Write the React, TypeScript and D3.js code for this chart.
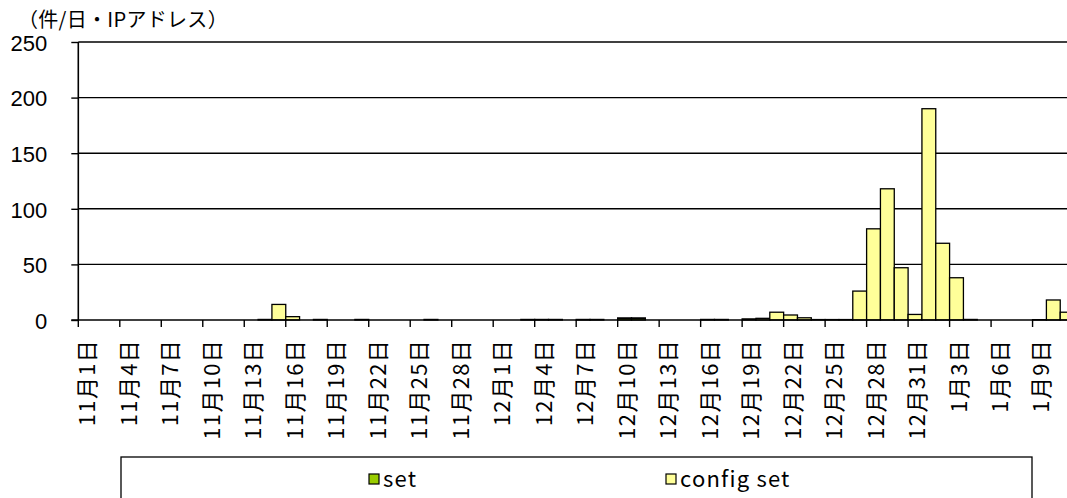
import * as d3 from "d3";
import {useEffect, useRef} from "react";

// categories: one per day, 11/1 .. 1/11
const dates = [
  "11月1日", "11月2日", "11月3日", "11月4日", "11月5日", "11月6日", "11月7日", "11月8日", "11月9日", "11月10日",
  "11月11日", "11月12日", "11月13日", "11月14日", "11月15日", "11月16日", "11月17日", "11月18日", "11月19日", "11月20日",
  "11月21日", "11月22日", "11月23日", "11月24日", "11月25日", "11月26日", "11月27日", "11月28日", "11月29日", "11月30日",
  "12月1日", "12月2日", "12月3日", "12月4日", "12月5日", "12月6日", "12月7日", "12月8日", "12月9日", "12月10日",
  "12月11日", "12月12日", "12月13日", "12月14日", "12月15日", "12月16日", "12月17日", "12月18日", "12月19日", "12月20日",
  "12月21日", "12月22日", "12月23日", "12月24日", "12月25日", "12月26日", "12月27日", "12月28日", "12月29日", "12月30日",
  "12月31日", "1月1日", "1月2日", "1月3日", "1月4日", "1月5日", "1月6日", "1月7日", "1月8日", "1月9日",
  "1月10日", "1月11日"
];

const setValues = [
  0, 0, 0, 0, 0, 0, 0, 0, 0, 0,
  0, 0, 0, 0, 0, 0, 0, 0, 0, 0,
  0, 0, 0, 0, 0, 0, 0, 0, 0, 0,
  0, 0, 0, 0, 0, 0, 0, 0, 0, 1.5,
  1.5, 0, 0, 0, 0, 0, 0, 0, 0, 0,
  0, 0, 0, 0, 0, 0, 0, 0, 0, 0,
  0, 0, 0, 0, 0, 0, 0, 0, 0, 0,
  0, 0
];

const configSetValues = [
  0, 0, 0, 0, 0, 0, 0, 0, 0, 0,
  0, 0, 0, 0.5, 14, 3, 0, 0.5, 0, 0,
  0.5, 0, 0, 0, 0, 0.5, 0, 0, 0, 0,
  0, 0, 0.5, 0.5, 0.5, 0, 0.5, 0.5, 0, 0.3,
  0.3, 0, 0, 0, 0, 0.5, 0.5, 0, 1, 1.5,
  7, 4.5, 2, 0.4, 0.4, 0.4, 26, 82, 118, 47,
  5, 190, 69, 38, 0.5, 0, 0, 0, 0, 0.3,
  18, 7
];

const seriesNames = ["set", "config set"];
const seriesColors = ["#99CC00", "#FFFF99"];
const yTicks = [0, 50, 100, 150, 200, 250];
const yUnit = "（件/日・IPアドレス）";

function App() {
  const ref = useRef(null);

  useEffect(() => {
    const width = 1067;
    const left = 78.3;
    const step = 13.83;
    const top = 42;
    const bottom = 320;

    const svg = d3.select(ref.current);
    svg.selectAll("*").remove();

    const x = d3.scaleBand()
      .domain(dates)
      .range([left, left + dates.length * step])
      .padding(0);
    const y = d3.scaleLinear()
      .domain([0, 250])
      .range([bottom, top]);

    const table = dates.map((d, i) => ({date: d, set: setValues[i], config: configSetValues[i]}));
    const stacked = d3.stack().keys(["set", "config"])(table);

    // unit label
    svg.append("text")
      .attr("x", 18)
      .attr("y", 27)
      .style("font-family", "'Noto Sans CJK JP'")
      .style("font-size", "20px")
      .style("letter-spacing", "0.3px")
      .text(yUnit);

    // gridlines
    svg.append("g")
      .selectAll("line")
      .data(yTicks.filter(t => t > 0))
      .enter()
      .append("line")
        .attr("x1", left)
        .attr("x2", width)
        .attr("y1", d => y(d))
        .attr("y2", d => y(d))
        .attr("stroke", "#000")
        .attr("stroke-width", 1.4);

    // bars
    svg.append("g")
      .selectAll("g")
      .data(stacked)
      .enter()
      .append("g")
        .attr("fill", (d, i) => seriesColors[i])
      .selectAll("rect")
      .data(d => d.filter(p => p[1] - p[0] > 0))
      .enter()
      .append("rect")
        .attr("x", d => x(d.data.date))
        .attr("width", x.bandwidth())
        .attr("y", d => y(d[1]))
        .attr("height", d => y(d[0]) - y(d[1]))
        .attr("stroke", "#000")
        .attr("stroke-width", 1.3);

    // y axis
    const yAxis = svg.append("g")
      .attr("transform", `translate(${left},0)`)
      .call(d3.axisLeft(y).tickValues(yTicks).tickSize(7).tickPadding(24));
    yAxis.select(".domain").attr("stroke", "#000").attr("stroke-width", 1.6).attr("d", `M0,${top}V${bottom}`);
    yAxis.selectAll(".tick line").attr("stroke", "#000").attr("stroke-width", 1.4);
    yAxis.selectAll(".tick text")
      .attr("fill", "#000")
      .attr("dy", "0.38em")
      .style("font-family", "'Liberation Sans', Arial")
      .style("font-size", "22px");

    // x axis
    svg.append("line")
      .attr("x1", left - 7)
      .attr("x2", width)
      .attr("y1", bottom)
      .attr("y2", bottom)
      .attr("stroke", "#000")
      .attr("stroke-width", 1.6);

    const labelled = dates.filter((d, i) => i % 3 === 0);
    const xAxis = svg.append("g");
    xAxis.selectAll("line")
      .data(labelled)
      .enter()
      .append("line")
        .attr("x1", d => x(d))
        .attr("x2", d => x(d))
        .attr("y1", bottom)
        .attr("y2", bottom + 7)
        .attr("stroke", "#000")
        .attr("stroke-width", 1.4);
    // slight opacity keeps the rotated text greyscale-antialiased
    xAxis.append("g")
      .style("opacity", 0.999)
      .selectAll("text")
      .data(labelled)
      .enter()
      .append("text")
        .attr("transform", d => `translate(${x(d) + x.bandwidth() / 2},339) rotate(-90)`)
        .attr("text-anchor", "end")
        .attr("dominant-baseline", "central")
        .attr("fill", "#000")
        .style("font-family", "'Noto Sans CJK JP'")
        .style("font-size", "22px")
        .style("letter-spacing", "1.3px")
        .text(d => d);

    // legend
    const legend = svg.append("g");
    legend.append("rect")
      .attr("x", 121)
      .attr("y", 457)
      .attr("width", 911)
      .attr("height", 80)
      .attr("fill", "#fff")
      .attr("stroke", "#000")
      .attr("stroke-width", 1.3);
    const legendX = [369, 666];
    seriesNames.forEach((name, i) => {
      legend.append("rect")
        .attr("x", legendX[i])
        .attr("y", 474)
        .attr("width", 10)
        .attr("height", 10)
        .attr("fill", seriesColors[i])
        .attr("stroke", "#000")
        .attr("stroke-width", 1.2);
      legend.append("text")
        .attr("x", legendX[i] + 14)
        .attr("y", 487)
        .style("font-family", "'Noto Sans CJK JP'")
        .style("font-size", "22px")
        .style("letter-spacing", "1.2px")
        .text(name);
    });
  });

  return (
    <svg ref={ref} width={1067} height={498}
      style={{position: "absolute", left: 0, top: 0, background: "#fff"}} />
  );
}

export default App;
